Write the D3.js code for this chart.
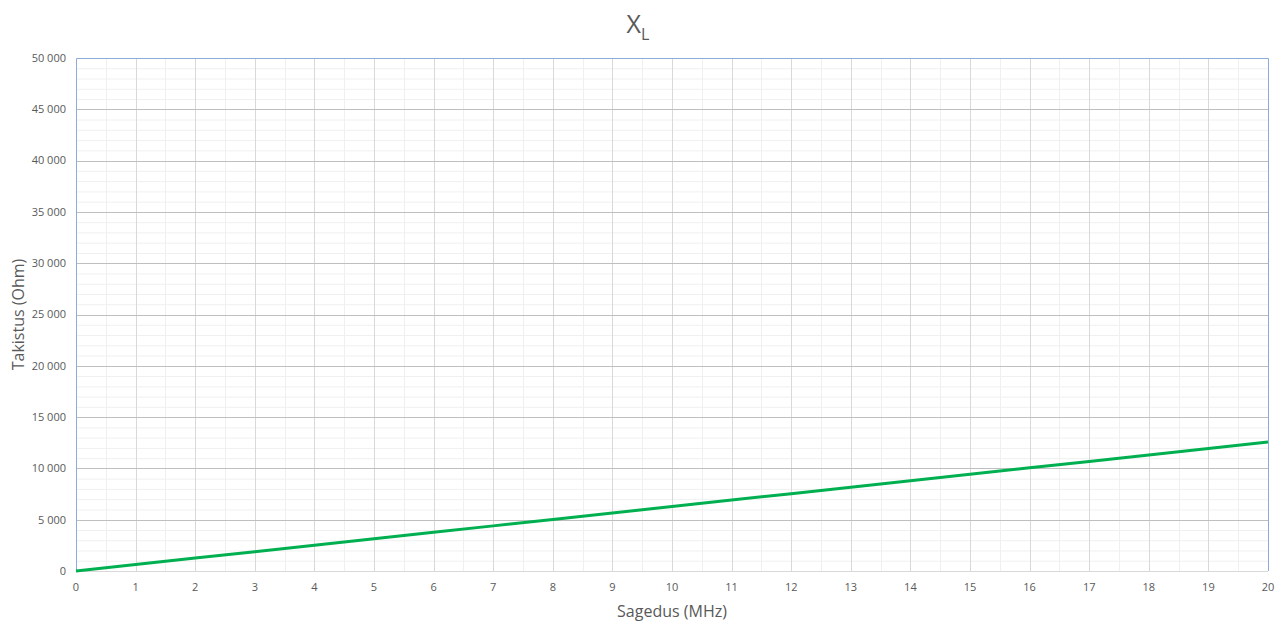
<!DOCTYPE html>
<html>
<head>
<meta charset="utf-8">
<script src="https://cdn.jsdelivr.net/npm/d3@7"></script>
<style>
  body { margin: 0; background: #fff; }
  svg text { font-family: "Open Sans", "Noto Sans", sans-serif; fill: #595959; }
</style>
</head>
<body>
<svg id="svg"></svg>
<script>

const width = 1288;
const height = 626;
const margin = { top: 58, right: 20, bottom: 55, left: 76 };

// frequency (MHz) and reactance (Ohm)
const freqMHz = [0, 1, 2, 3, 4, 5, 6, 7, 8, 9, 10, 11, 12, 13, 14, 15, 16, 17, 18, 19, 20];
const reactance = [0, 628, 1257, 1885, 2513, 3142, 3770, 4398, 5027, 5655, 6283,
                   6912, 7540, 8168, 8796, 9425, 10053, 10681, 11310, 11938, 12566];
const yTicks = [0, 5000, 10000, 15000, 20000, 25000, 30000, 35000, 40000, 45000, 50000];
const xTicks = d3.range(0, 21, 1);

const svg = d3.select("#svg")
  .attr("width", width)
  .attr("height", height);

const x = d3.scaleLinear()
  .domain([0, 20])
  .range([margin.left, width - margin.right]);

const y = d3.scaleLinear()
  .domain([0, 50000])
  .range([height - margin.bottom, margin.top]);

const fmt = d => d3.format(",")(d).replace(/,/g, " ");

// minor grid
svg.append("g").selectAll("line")
  .data(d3.range(1000, 50000, 1000).filter(d => d % 5000 != 0))
  .join("line")
  .attr("x1", margin.left).attr("x2", width - margin.right)
  .attr("y1", d => y(d) + 0.5).attr("y2", d => y(d) + 0.5)
  .attr("stroke", "#f0f0f0");

svg.append("g").selectAll("line")
  .data(d3.range(0.5, 20, 1))
  .join("line")
  .attr("x1", d => Math.round(x(d)) + 0.5).attr("x2", d => Math.round(x(d)) + 0.5)
  .attr("y1", margin.top).attr("y2", height - margin.bottom)
  .attr("stroke", "#f0f0f0");

// major grid
svg.append("g").selectAll("line")
  .data(xTicks.slice(1, -1))
  .join("line")
  .attr("x1", d => Math.round(x(d)) + 0.5).attr("x2", d => Math.round(x(d)) + 0.5)
  .attr("y1", margin.top).attr("y2", height - margin.bottom)
  .attr("stroke", "#d9d9d9");

svg.append("g").selectAll("line")
  .data(yTicks.slice(1, -1))
  .join("line")
  .attr("x1", margin.left).attr("x2", width - margin.right)
  .attr("y1", d => Math.round(y(d)) + 0.5).attr("y2", d => Math.round(y(d)) + 0.5)
  .attr("stroke", "#bfbfbf");

// bottom axis line
svg.append("line")
  .attr("x1", margin.left).attr("x2", width - margin.right)
  .attr("y1", Math.round(y(0)) + 0.5).attr("y2", Math.round(y(0)) + 0.5)
  .attr("stroke", "#d9d9d9");

// plot border (blue)
svg.append("path")
  .attr("d", `M${margin.left + 0.5},${height - margin.bottom} V${margin.top + 0.5} H${width - margin.right + 0.5} V${height - margin.bottom}`)
  .attr("fill", "none")
  .attr("stroke", "#8eaadb");

// tick labels
svg.append("g").selectAll("text")
  .data(yTicks)
  .join("text")
  .attr("x", margin.left - 10)
  .attr("y", d => y(d))
  .attr("dy", "0.35em")
  .attr("text-anchor", "end")
  .style("font-size", "11px")
  .text(fmt);

svg.append("g").selectAll("text")
  .data(xTicks)
  .join("text")
  .attr("x", d => x(d))
  .attr("y", height - margin.bottom + 20)
  .attr("text-anchor", "middle")
  .style("font-size", "11px")
  .text(d => d);

// line
const line = d3.line()
  .x((d, i) => x(freqMHz[i]))
  .y(d => y(d));

svg.append("path")
  .datum(reactance)
  .attr("d", line)
  .attr("fill", "none")
  .attr("stroke", "#00b050")
  .attr("stroke-width", 3)
  .attr("stroke-linejoin", "round");

// titles
const title = svg.append("text")
  .attr("x", 638)
  .attr("y", 33)
  .attr("text-anchor", "middle")
  .style("font-size", "25px");
title.append("tspan").text("X");
title.append("tspan").attr("dy", 7).style("font-size", "16px").text("L");

svg.append("text")
  .attr("x", (margin.left + width - margin.right) / 2)
  .attr("y", 617)
  .attr("text-anchor", "middle")
  .style("font-size", "16px")
  .text("Sagedus (MHz)");

svg.append("text")
  .attr("transform", `translate(24, ${(margin.top + height - margin.bottom) / 2}) rotate(-90)`)
  .attr("text-anchor", "middle")
  .style("font-size", "16px")
  .text("Takistus (Ohm)");

</script>
</body>
</html>
